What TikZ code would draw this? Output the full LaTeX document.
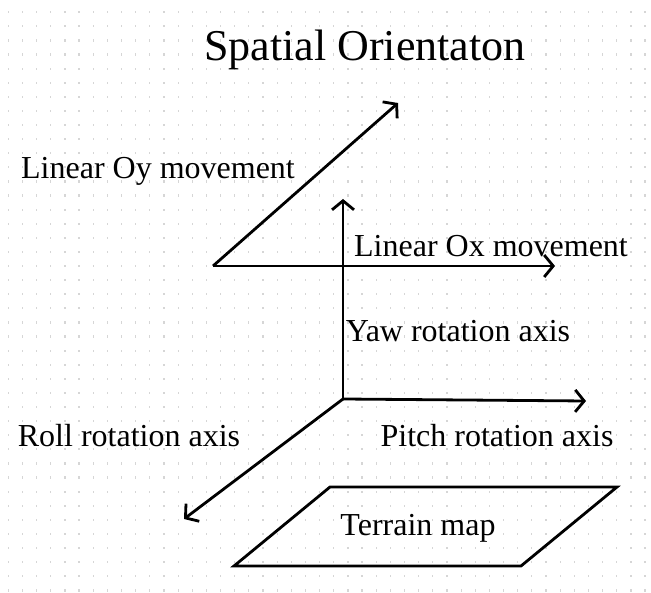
\documentclass[tikz,border=0pt]{standalone}
\usepackage{fontspec}
\setmainfont{Liberation Serif}
\usetikzlibrary{arrows.meta}
\begin{document}
\begin{tikzpicture}[x=1pt,y=-1pt,
  axis/.style={line width=2.8pt,-{Straight Barb[length=9pt,width=22pt,line width=2.8pt]}},
  edge/.style={line width=2.8pt,line join=miter},
  lbl/.style={font=\fontsize{32}{36}\selectfont,inner sep=0pt},
  ttl/.style={font=\fontsize{44}{48}\selectfont,inner sep=0pt}]
\useasboundingbox (0,0) rectangle (651,593);
\fill[white] (0,0) rectangle (651,593);
% dotted background grid
\foreach \i in {0,...,45}{
  \foreach \j in {0,...,41}{
    \fill[black!16] ({8.3+14.15*\i-0.6},{12.3+14.1*\j-1.1}) rectangle ++(1.2,2.2);
  }
}
% title
\node[ttl] (title) at (365,50) {Spatial Orientaton};
% axis points
\coordinate (oyS) at (213,266);
\coordinate (oyE) at (398,103);
\coordinate (oxE) at (555,266);
\coordinate (o) at (343,399);
\coordinate (yawE) at (343,199);
\coordinate (pitchE) at (586,401);
\coordinate (rollE) at (184,519);
% arrows
\draw[axis] (oyS) -- (oyE);
\draw[axis] (oyS) -- (oxE);
\draw[axis] (o) -- (yawE);
\draw[axis] (o) -- (pitchE);
\draw[axis] (o) -- (rollE);
% terrain map plane
\coordinate (tl) at (330,487);
\coordinate (tr) at (617,487);
\coordinate (br) at (521,566);
\coordinate (bl) at (234,566);
\draw[edge] (tl) -- (tr) -- (br) -- (bl) -- cycle;
% labels
\node[lbl] (oy) at (158,171) {Linear Oy movement};
\node[lbl] (ox) at (491,246) {Linear Ox movement};
\node[lbl] (yaw) at (458,331) {Yaw rotation axis};
\node[lbl] (pitch) at (497,436) {Pitch rotation axis};
\node[lbl] (roll) at (129,436) {Roll rotation axis};
\node[lbl] (terrain) at (418,528) {Terrain map};
\end{tikzpicture}
\end{document}
